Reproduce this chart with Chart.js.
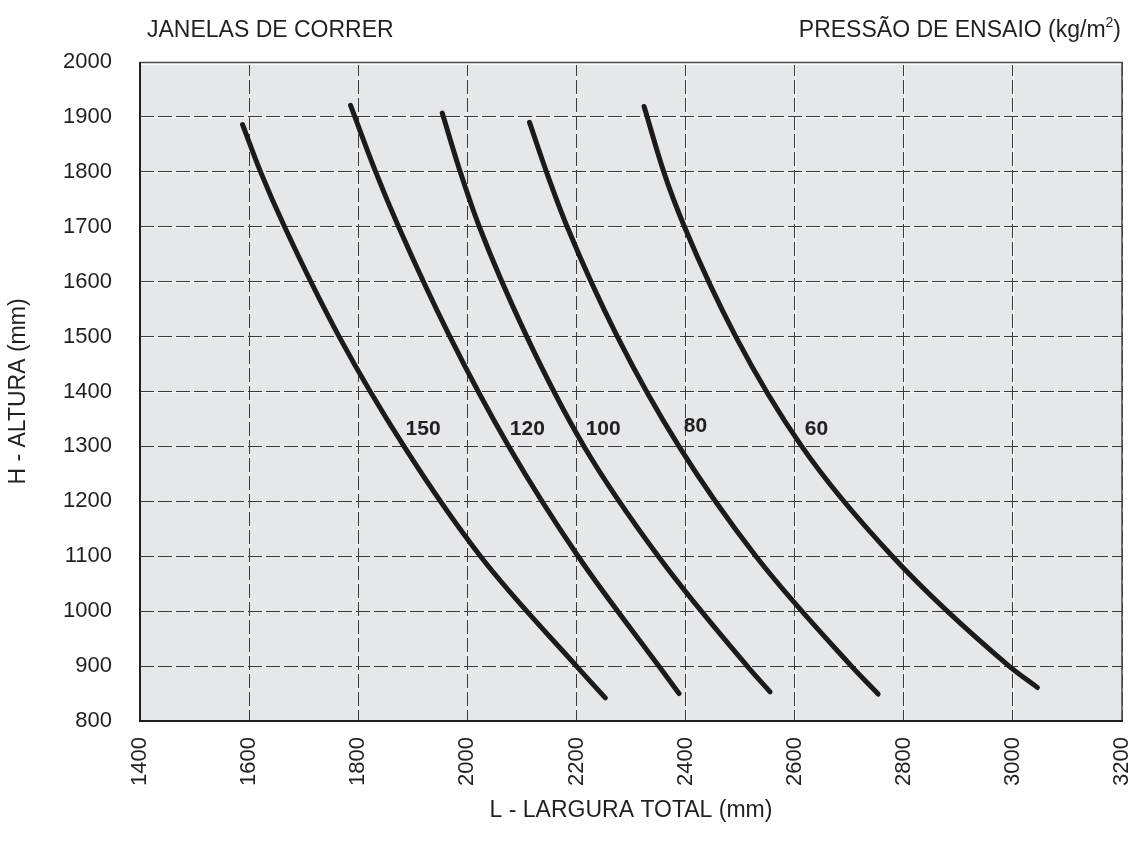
<!DOCTYPE html>
<html>
<head>
<meta charset="utf-8">
<script src="https://cdn.jsdelivr.net/npm/chart.js@4.4.0/dist/chart.umd.min.js"></script>
<style>
  html, body { margin: 0; padding: 0; background: #ffffff; }
  #wrap { position: relative; width: 1133px; height: 852px; }
</style>
</head>
<body>
<div id="wrap"><canvas id="chart" width="1133" height="852"></canvas></div>
<script>
// Test pressure of each curve (kg/m2)
const pressures = ['150', '120', '100', '80', '60'];

// Total width L (mm) and height H (mm) along each curve
const width150  = [1588, 1621, 1665, 1765, 1884, 2024, 2200, 2253];
const height150 = [1886, 1800, 1700, 1500, 1300, 1100,  900,  842];

const width120  = [1786, 1832, 1874, 1968, 2076, 2203, 2351, 2388];
const height120 = [1921, 1800, 1700, 1500, 1300, 1100,  900,  850];

const width100  = [1954, 1987, 2022, 2109, 2214, 2350, 2513, 2555];
const height100 = [1907, 1800, 1700, 1500, 1300, 1100,  900,  853];

const width80   = [2114, 2145, 2183, 2275, 2388, 2529, 2704, 2753];
const height80  = [1890, 1800, 1700, 1500, 1300, 1100,  900,  849];

const width60   = [2324, 2360, 2398, 2492, 2613, 2779, 2993, 3045];
const height60  = [1919, 1800, 1700, 1500, 1300, 1100,  900,  861];

// Where each pressure label sits (in mm on both axes)
const labelWidths  = [1919, 2110, 2249, 2418, 2640];
const labelHeights = [1332, 1332, 1332, 1336, 1332];

// Axis ticks
const xTicks = [1400, 1600, 1800, 2000, 2200, 2400, 2600, 2800, 3000, 3200];
const yTicks = [800, 900, 1000, 1100, 1200, 1300, 1400, 1500, 1600, 1700, 1800, 1900, 2000];

const widths  = [width150, width120, width100, width80, width60];
const heights = [height150, height120, height100, height80, height60];

const FONT = "'Liberation Sans', Arial, Helvetica, sans-serif";
const INK = '#231f20';

const datasets = pressures.map((p, k) => ({
  label: p,
  data: widths[k].map((w, i) => ({ x: w, y: heights[k][i] })),
  showLine: true,
  fill: false,
  borderColor: '#1d1a1a',
  borderWidth: 5,
  borderCapStyle: 'round',
  borderJoinStyle: 'round',
  pointRadius: 0,
  pointHoverRadius: 0,
  cubicInterpolationMode: 'monotone'
}));

const decorations = {
  id: 'decorations',
  beforeDraw(chart) {
    const { ctx, chartArea: a, scales } = chart;
    ctx.save();
    ctx.fillStyle = '#e6e7e8';
    ctx.fillRect(a.left, a.top, a.right - a.left, a.bottom - a.top);
    // pale lines that show through the gaps of the dashed grid
    ctx.strokeStyle = '#f6f6f6';
    ctx.lineWidth = 1;
    ctx.beginPath();
    xTicks.forEach(v => {
      const x = Math.round(scales.x.getPixelForValue(v)) + 0.5;
      ctx.moveTo(x, a.top); ctx.lineTo(x, a.bottom);
    });
    yTicks.forEach(v => {
      const y = Math.round(scales.y.getPixelForValue(v)) + 0.5;
      ctx.moveTo(a.left, y); ctx.lineTo(a.right, y);
    });
    ctx.stroke();
    ctx.restore();
  },
  afterDatasetsDraw(chart) {
    const { ctx, chartArea: a, scales } = chart;
    ctx.save();
    // frame
    ctx.strokeStyle = '#ffffff';
    ctx.lineWidth = 2;
    ctx.beginPath();
    ctx.moveTo(a.left, a.top + 2); ctx.lineTo(a.right - 1, a.top + 2);
    ctx.stroke();
    ctx.strokeStyle = '#4a4a4a';
    ctx.lineWidth = 1.5;
    ctx.beginPath();
    ctx.moveTo(a.left, a.top + 0.5); ctx.lineTo(a.right, a.top + 0.5);
    ctx.lineTo(a.right, a.bottom);
    ctx.stroke();
    ctx.strokeStyle = '#231f20';
    ctx.lineWidth = 2;
    ctx.beginPath();
    ctx.moveTo(a.left, a.top); ctx.lineTo(a.left, a.bottom); ctx.lineTo(a.right + 1, a.bottom);
    ctx.stroke();

    // pressure labels on the curves
    ctx.fillStyle = INK;
    ctx.font = 'bold 21px ' + FONT;
    ctx.textAlign = 'center';
    ctx.textBaseline = 'middle';
    pressures.forEach((p, k) => {
      ctx.fillText(p, scales.x.getPixelForValue(labelWidths[k]), scales.y.getPixelForValue(labelHeights[k]));
    });

    // headings and axis titles
    ctx.font = '23px ' + FONT;
    ctx.textBaseline = 'alphabetic';
    ctx.textAlign = 'left';
    ctx.fillText('JANELAS DE CORRER', 147, 37);

    // right heading with superscript
    const main = 'PRESSÃO DE ENSAIO (kg/m';
    ctx.font = '23px ' + FONT;
    const wMain = ctx.measureText(main).width;
    ctx.font = '14px ' + FONT;
    const wSup = ctx.measureText('2').width;
    ctx.font = '23px ' + FONT;
    const wClose = ctx.measureText(')').width;
    const xEnd = 1121;
    const xs = xEnd - wClose - wSup - wMain;
    ctx.fillText(main, xs, 37);
    ctx.font = '14px ' + FONT;
    ctx.fillText('2', xs + wMain, 27);
    ctx.font = '23px ' + FONT;
    ctx.fillText(')', xs + wMain + wSup, 37);

    ctx.textAlign = 'center';
    ctx.fillText('L - LARGURA TOTAL (mm)', (a.left + a.right) / 2, 817);

    ctx.translate(19, (a.top + a.bottom) / 2);
    ctx.rotate(-Math.PI / 2);
    ctx.textBaseline = 'middle';
    ctx.fillText('H - ALTURA (mm)', 0, 0);
    ctx.restore();
  }
};

new Chart(document.getElementById('chart'), {
  type: 'scatter',
  data: { datasets },
  options: {
    responsive: false,
    animation: false,
    devicePixelRatio: 1,
    layout: { padding: { left: 0, right: 11, top: 62, bottom: 0 } },
    plugins: { legend: { display: false }, tooltip: { enabled: false } },
    scales: {
      x: {
        type: 'linear',
        min: 1400, max: 3200,
        afterBuildTicks: s => { s.ticks = xTicks.map(v => ({ value: v })); },
        afterFit: s => { s.height = 131; s.paddingLeft = 0; s.paddingRight = 0; },
        ticks: {
          autoSkip: false, minRotation: 90, maxRotation: 90, padding: 16,
          font: { family: FONT, size: 22 }, color: INK,
          callback: v => String(v)
        },
        grid: { color: '#3a3a3a', lineWidth: 1, drawTicks: false },
        border: { display: false, dash: [14, 4] }
      },
      y: {
        type: 'linear',
        min: 800, max: 2000,
        afterBuildTicks: s => { s.ticks = yTicks.map(v => ({ value: v })); },
        afterFit: s => { s.width = 140; s.paddingTop = 0; s.paddingBottom = 0; },
        ticks: {
          autoSkip: false, padding: 28,
          font: { family: FONT, size: 22 }, color: INK,
          callback: v => String(v)
        },
        grid: { color: '#3a3a3a', lineWidth: 1, drawTicks: false },
        border: { display: false, dash: [14, 4] }
      }
    }
  },
  plugins: [decorations]
});
</script>
</body>
</html>
